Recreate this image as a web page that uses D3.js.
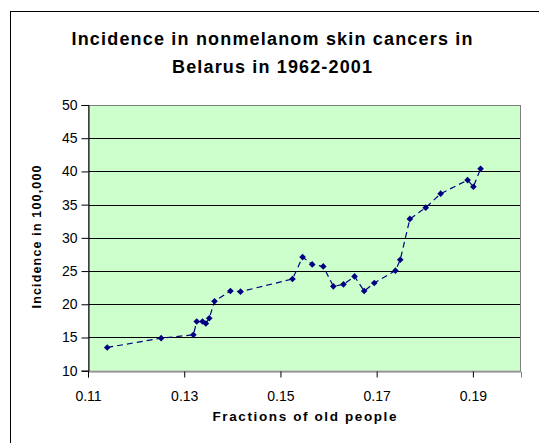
<!DOCTYPE html>
<html><head><meta charset="utf-8">
<script src="https://cdn.jsdelivr.net/npm/d3@7"></script>
<style>body{margin:0;background:#fff}svg{display:block}text{font-family:"Liberation Sans",Arial,sans-serif}</style>
</head><body>
<svg id="c" width="539" height="443"></svg>
<script>
const fractions = [0.1140,0.1252,0.1319,0.1326,0.1338,0.1345,0.1352,0.1363,0.1396,0.1417,0.1525,0.1546,0.1566,0.1589,0.1610,0.1631,0.1654,0.1674,0.1695,0.1739,0.1749,0.1769,0.1802,0.1833,0.1889,0.1901,0.1916];
const incidence = [13.5,14.9,15.4,17.4,17.4,17.1,17.9,20.45,22.0,21.9,23.8,27.1,26.0,25.7,22.7,23.0,24.2,22.0,23.2,25.06,26.7,32.85,34.55,36.65,38.7,37.7,40.4];
const xTicks = [0.11,0.13,0.15,0.17,0.19];
const yTicks = [10,15,20,25,30,35,40,45,50];
const titleLines = ["Incidence in nonmelanom skin cancers in","Belarus in 1962-2001"];

const svg = d3.select("#c");
const L=88,R=521,T=105,B=370.7;
const x = d3.scaleLinear().domain([0.11,0.2]).range([L,R]);
const y = d3.scaleLinear().domain([10,50]).range([B,T]);

// outer border
svg.append("rect").attr("x",10.5).attr("y",11.5).attr("width",560).attr("height",460)
  .attr("fill","#fff").attr("stroke","#000").attr("stroke-width",1);

// plot area
svg.append("rect").attr("x",L).attr("y",T).attr("width",R-L).attr("height",B-T)
  .attr("fill","#ccffcc");

// gridlines
svg.append("g").selectAll("line").data(yTicks.filter(d=>d>10&&d<50)).join("line")
  .attr("x1",L).attr("x2",R).attr("y1",d=>Math.round(y(d))+0.5).attr("y2",d=>Math.round(y(d))+0.5)
  .attr("stroke","#000").attr("stroke-width",1);

svg.append("rect").attr("x",L+0.5).attr("y",T+0.5).attr("width",R-L-1).attr("height",B-T)
  .attr("fill","none").attr("stroke","#808080").attr("stroke-width",1);

// axes
const xa = svg.append("g").attr("transform",`translate(0,${Math.round(B)+0.5})`)
  .call(d3.axisBottom(x).tickValues(xTicks).tickFormat(d3.format(".2f")).tickSize(6).tickPadding(14));
const ya = svg.append("g").attr("transform",`translate(${L+0.5},0)`)
  .call(d3.axisLeft(y).tickValues(yTicks).tickSize(7).tickPadding(4));
[xa,ya].forEach(a=>{
  a.select(".domain").attr("stroke","#000");
  a.selectAll(".tick line").attr("stroke","#000");
  a.selectAll("text").attr("font-family","Liberation Sans, Arial, sans-serif").attr("font-size",14).attr("fill","#000");
});
xa.select(".domain").attr("stroke","#808080");

// line
const pts = fractions.map((f,i)=>[f,incidence[i]]);
svg.append("path").datum(pts)
  .attr("d",d3.line().x(d=>x(d[0])).y(d=>y(d[1])))
  .attr("fill","none").attr("stroke","#000080").attr("stroke-width",1.2).attr("stroke-dasharray","6,4");

// markers
svg.append("g").selectAll("path").data(pts).join("path")
  .attr("transform",d=>`translate(${x(d[0])},${y(d[1])}) rotate(45)`)
  .attr("d",d3.symbol().type(d3.symbolSquare).size(22))
  .attr("fill","#000080");

// title
const tl = [401,200];
svg.append("g").selectAll("text").data(titleLines).join("text")
  .attr("x",272).attr("y",(d,i)=>45+i*28).attr("text-anchor","middle")
  .attr("font-size",18).attr("font-weight","bold")
  .attr("textLength",(d,i)=>tl[i]).attr("lengthAdjust","spacing").text(d=>d);

svg.append("text").attr("x",(L+R)/2).attr("y",421).attr("text-anchor","middle")
  .attr("font-size",13.5).attr("font-weight","bold")
  .attr("textLength",184).attr("lengthAdjust","spacing").text("Fractions of old people");

svg.append("text").attr("transform","translate(41,237) rotate(-90)").attr("text-anchor","middle")
  .attr("font-size",12.5).attr("font-weight","bold")
  .attr("textLength",143).attr("lengthAdjust","spacing").text("Incidence in 100,000");
</script>
</body></html>
